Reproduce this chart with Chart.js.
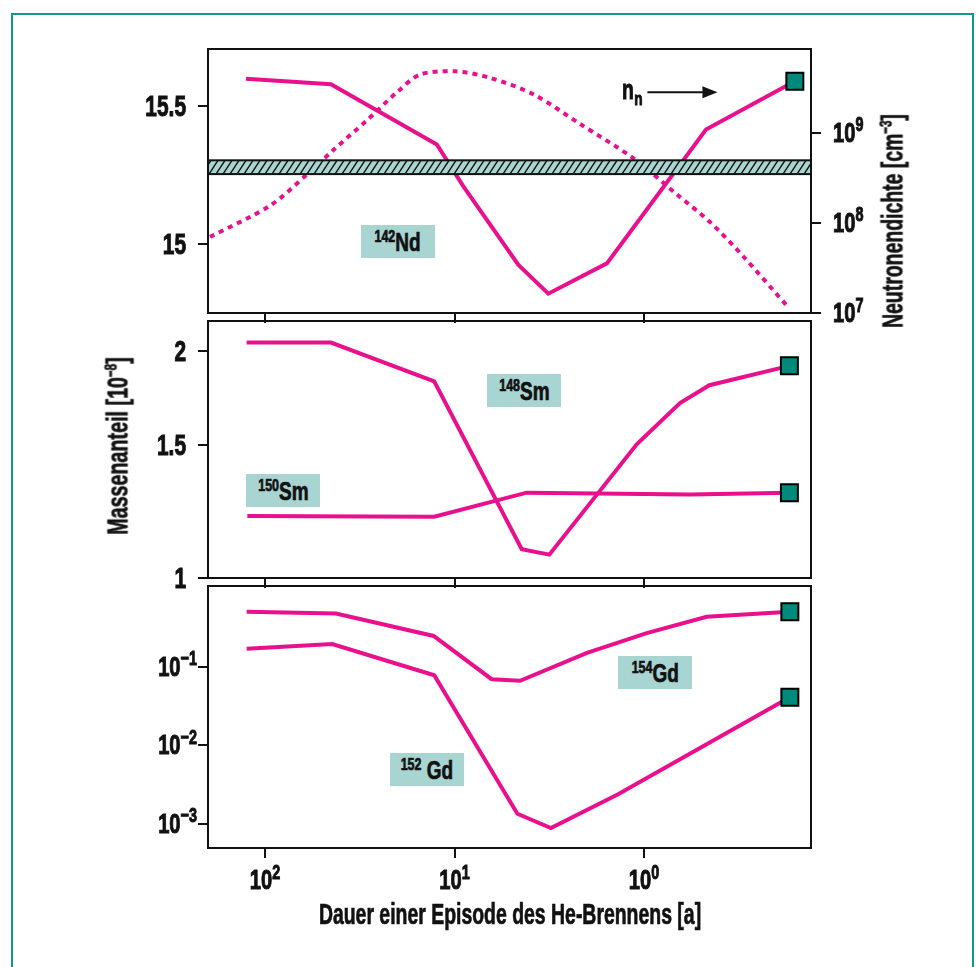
<!DOCTYPE html>
<html>
<head>
<meta charset="utf-8">
<script src="https://cdn.jsdelivr.net/npm/chart.js@4.4.1/dist/chart.umd.min.js"></script>
<style>
  body { margin: 0; background: #fff; width: 978px; height: 967px; position: relative; overflow: hidden;
         font-family: 'Liberation Sans', Arial, sans-serif; font-weight: bold; color: #111; }
  #frame { position: absolute; left: 11px; top: 13px; width: 959px; height: 990px; border: 2px solid #11978b; border-bottom: none; }
  .cv { position: absolute; left: 0; }
  .lbl { position: absolute; height: 33px; background: #a8d4d2; display: flex; align-items: center; justify-content: center; }
  .lbl span { display: inline-block; font-size: 26px; line-height: 1; transform: scaleX(.73); white-space: nowrap; -webkit-text-stroke: 0.7px #111; }
  .lbl sup, .tt sup { font-size: 17px; position: relative; top: -1px; vertical-align: top; line-height: 1; }
  .tt { position: absolute; font-size: 29px; line-height: 29px; white-space: nowrap; -webkit-text-stroke: 0.7px #111; }
</style>
</head>
<body>
<div id="frame"></div>
<canvas id="c1" class="cv" width="978" height="327" style="top:0"></canvas>
<canvas id="c2" class="cv" width="978" height="285" style="top:307px"></canvas>
<canvas id="c3" class="cv" width="978" height="336" style="top:572px"></canvas>

<div class="lbl" style="left:361px;top:225px;width:74px"><span><sup>142</sup>Nd</span></div>
<div class="lbl" style="left:487px;top:374px;width:74px"><span><sup>148</sup>Sm</span></div>
<div class="lbl" style="left:246px;top:474px;width:74px"><span><sup>150</sup>Sm</span></div>
<div class="lbl" style="left:618px;top:656px;width:74px"><span><sup>154</sup>Gd</span></div>
<div class="lbl" style="left:390px;top:753px;width:74px"><span><sup>152</sup>&nbsp;Gd</span></div>

<div class="tt" style="left:118px;top:446px;transform:translate(-50%,-50%) rotate(-90deg) scaleX(.68)">Massenanteil [10<sup>−8</sup>]</div>
<div class="tt" style="left:893px;top:221px;transform:translate(-50%,-50%) rotate(-90deg) scaleX(.67)">Neutronendichte [cm<sup>−3</sup>]</div>
<div class="tt" style="left:510px;top:900px;transform:translateX(-50%) scaleX(.67)">Dauer einer Episode des He-Brennens [a]</div>

<script>
// Dauer einer Episode [a], axis runs from long (left) to short (right)
const xTicks = [100, 10, 1];

// 142Nd, Massenanteil (top panel, linear)
const ndX = [126, 44.9, 12.4, 9.0, 4.6, 3.2, 1.57, 0.471, 0.160];
const ndY = [15.599, 15.579, 15.361, 15.210, 14.924, 14.820, 14.930, 15.415, 15.590];
const ndTicks = [15, 15.5];

// Neutronendichte n_n [cm^-3] (top panel, right log axis, dotted)
const nnX = [195, 94.1, 60.2, 43.6, 29.1, 20.2, 15.2, 9.94, 6.50, 3.84, 2.18, 1.14, 0.672, 0.449, 0.299, 0.173];
const nnY = [6.98e7, 1.55e8, 3.42e8, 6.41e8, 1.36e9, 2.78e9, 4.40e9, 4.78e9, 4.05e9, 2.66e9, 1.25e9, 5.20e8, 2.07e8, 1.02e8, 4.23e7, 1.15e7];
const nnTicks = [1e7, 1e8, 1e9];

// hatched band (142Nd range)
const bandRange = [15.2535, 15.3035];

// 148Sm / 150Sm (middle panel, log)
const sm148X = [125, 44.9, 12.8, 4.42, 3.16, 1.09, 0.646, 0.452, 0.171];
const sm148Y = [2.054, 2.054, 1.824, 1.092, 1.074, 1.506, 1.707, 1.803, 1.913];
const sm150X = [124, 12.8, 4.16, 0.571, 0.171];
const sm150Y = [1.209, 1.206, 1.298, 1.291, 1.298];
const smTicks = [1, 1.5, 2];

// 154Gd / 152Gd (bottom panel, log)
const gd154X = [125, 42.2, 12.9, 6.37, 4.51, 2.00, 0.968, 0.467, 0.170];
const gd154Y = [0.506, 0.482, 0.249, 0.0698, 0.0667, 0.151, 0.270, 0.438, 0.506];
const gd152X = [125, 44.2, 12.8, 4.66, 3.10, 1.37, 0.170];
const gd152Y = [0.171, 0.196, 0.0784, 0.00134, 0.000881, 0.00238, 0.0411];
const gdTicks = [1e-3, 1e-2, 1e-1];

// n_n arrow (x from/to, level on right axis)
const arrowX = [0.96, 0.41];
const arrowLevel = 2.8e9;

const MAG = '#e8108c';
const TEAL = '#008a7c';
const FONT = "'Liberation Sans', Arial, sans-serif";
const SX = 0.72;

function pts(xs, ys) { return xs.map((x, i) => ({ x: x, y: ys[i] })); }

function line(xs, ys, axis, dotted) {
  const n = xs.length;
  return {
    data: pts(xs, ys),
    yAxisID: axis,
    borderColor: MAG,
    borderWidth: 4,
    borderDash: dotted ? [5, 5] : [],
    tension: dotted ? 0.3 : 0,
    pointStyle: 'rect',
    pointRadius: dotted ? 0 : (c => c.dataIndex === n - 1 ? 12 : 0),
    pointBackgroundColor: TEAL,
    pointBorderColor: '#000',
    pointBorderWidth: 2
  };
}

function txt(ctx, s, x, y, size, align) {
  ctx.save();
  ctx.font = 'bold ' + size + 'px ' + FONT;
  const w = ctx.measureText(s).width * SX;
  const left = align === 'right' ? x - w : align === 'center' ? x - w / 2 : x;
  ctx.translate(left, y);
  ctx.scale(SX, 1);
  ctx.textAlign = 'left';
  ctx.textBaseline = 'alphabetic';
  ctx.fillStyle = '#111';
  ctx.strokeStyle = '#111';
  ctx.lineWidth = 1;
  ctx.fillText(s, 0, 0);
  ctx.strokeText(s, 0, 0);
  ctx.restore();
  return w;
}
function width(ctx, s, size) {
  ctx.save();
  ctx.font = 'bold ' + size + 'px ' + FONT;
  const w = ctx.measureText(s).width * SX;
  ctx.restore();
  return w;
}

// tick labels, placed from the scales
const tickText = {
  id: 'tickText',
  afterDraw(chart, args, opts) {
    const ctx = chart.ctx;
    (opts.plain || []).forEach(id => {
      const s = chart.scales[id];
      s.ticks.forEach(t => txt(ctx, String(t.value), s.right - 22, s.getPixelForValue(t.value) + 9.5, 29, 'right'));
    });
    (opts.power || []).forEach(id => {
      const s = chart.scales[id];
      s.ticks.forEach(t => {
        const p = s.getPixelForValue(t.value);
        const e = String(Math.round(Math.log10(t.value))).replace('-', '\u2212');
        const bw = width(ctx, '10', 28), ew = width(ctx, e, 20);
        let x, y;
        if (s.axis === 'x') { x = p - (bw + ew) / 2; y = s.top + 41; }
        else if (s.position === 'left') { x = s.right - 11 - bw - ew; y = p + 9; }
        else { x = s.left + 22; y = p + 9; }
        txt(ctx, '10', x, y, 28, 'left');
        txt(ctx, e, x + bw, y - 10.5, 20, 'left');
      });
    });
  }
};

const frame = {
  id: 'frame',
  afterDraw(chart) {
    const { ctx, chartArea: a } = chart;
    ctx.save();
    ctx.strokeStyle = '#111';
    ctx.lineWidth = 2;
    ctx.strokeRect(a.left, a.top, a.right - a.left, a.bottom - a.top);
    ctx.restore();
  }
};

const band = {
  id: 'band',
  afterDatasetsDraw(chart) {
    const { ctx, chartArea: a } = chart;
    const y = chart.scales.y;
    const y1 = y.getPixelForValue(bandRange[1]), y2 = y.getPixelForValue(bandRange[0]);
    ctx.save();
    ctx.fillStyle = '#a8d4d2';
    ctx.fillRect(a.left, y1, a.right - a.left, y2 - y1);
    ctx.beginPath();
    ctx.rect(a.left, y1, a.right - a.left, y2 - y1);
    ctx.clip();
    ctx.beginPath();
    for (let x = a.left - 20; x < a.right + 20; x += 7) {
      ctx.moveTo(x, y2);
      ctx.lineTo(x + 9, y1);
    }
    ctx.strokeStyle = '#111';
    ctx.lineWidth = 1.4;
    ctx.stroke();
    ctx.restore();
    ctx.save();
    ctx.strokeStyle = '#111';
    ctx.lineWidth = 2;
    ctx.strokeRect(a.left, y1, a.right - a.left, y2 - y1);
    ctx.restore();
  }
};

const arrow = {
  id: 'arrow',
  afterDraw(chart) {
    const ctx = chart.ctx;
    const x0 = chart.scales.x.getPixelForValue(arrowX[0]);
    const x1 = chart.scales.x.getPixelForValue(arrowX[1]);
    const y = chart.scales.yR.getPixelForValue(arrowLevel);
    ctx.save();
    ctx.strokeStyle = '#111';
    ctx.fillStyle = '#111';
    ctx.lineWidth = 2;
    ctx.beginPath();
    ctx.moveTo(x0, y);
    ctx.lineTo(x1 - 10, y);
    ctx.stroke();
    ctx.beginPath();
    ctx.moveTo(x1, y);
    ctx.lineTo(x1 - 15, y - 6);
    ctx.lineTo(x1 - 15, y + 6);
    ctx.closePath();
    ctx.fill();
    ctx.restore();
    const w = txt(ctx, 'n', x0 - 25.5, y + 6.5, 27, 'left');
    txt(ctx, 'n', x0 - 25.5 + w + 0.5, y + 12.5, 19, 'left');
  }
};

const tickGrid = { drawOnChartArea: false, drawTicks: true, tickLength: 10, color: '#111', lineWidth: 2 };

function xAxis(h) {
  return {
    type: 'logarithmic', reverse: true, min: 0.1315, max: 200,
    afterBuildTicks: s => { s.ticks = xTicks.map(v => ({ value: v })); },
    afterFit: s => { s.height = h; },
    ticks: { callback: () => '', autoSkip: false, maxRotation: 0 },
    grid: tickGrid,
    border: { display: false }
  };
}
function yAxis(type, min, max, ticks, pos, w) {
  return {
    type: type, position: pos, min: min, max: max,
    afterBuildTicks: s => { s.ticks = ticks.map(v => ({ value: v })); },
    afterFit: s => { s.width = w; },
    ticks: { callback: () => '', autoSkip: false },
    grid: tickGrid,
    border: { display: false }
  };
}

function base(pad, scales, datasets, plugins, tt) {
  return {
    type: 'line',
    data: { datasets: datasets },
    options: {
      responsive: false,
      animation: false,
      events: [],
      layout: { padding: pad },
      scales: scales,
      plugins: { legend: { display: false }, tooltip: { enabled: false }, tickText: tt }
    },
    plugins: plugins
  };
}

new Chart(document.getElementById('c1'), base(
  { top: 49, left: 0, right: 0, bottom: 0 },
  { x: xAxis(10), y: yAxis('linear', 14.75, 15.707, ndTicks, 'left', 208), yR: yAxis('logarithmic', 1e7, 8.45e9, nnTicks, 'right', 167) },
  [line(nnX, nnY, 'yR', true), line(ndX, ndY, 'y', false)],
  [band, frame, arrow, tickText],
  { plain: ['y'], power: ['yR'] }
));

new Chart(document.getElementById('c2'), base(
  { top: 10, left: 0, right: 167, bottom: 0 },
  { x: xAxis(10), y: yAxis('logarithmic', 1, 2.194, smTicks, 'left', 208) },
  [line(sm148X, sm148Y, 'y', false), line(sm150X, sm150Y, 'y', false)],
  [frame, tickText],
  { plain: ['y'] }
));

new Chart(document.getElementById('c3'), base(
  { top: 10, left: 0, right: 167, bottom: 0 },
  { x: xAxis(60), y: yAxis('logarithmic', 4.9e-4, 1.08, gdTicks, 'left', 208) },
  [line(gd154X, gd154Y, 'y', false), line(gd152X, gd152Y, 'y', false)],
  [frame, tickText],
  { power: ['y', 'x'] }
));
</script>
</body>
</html>
